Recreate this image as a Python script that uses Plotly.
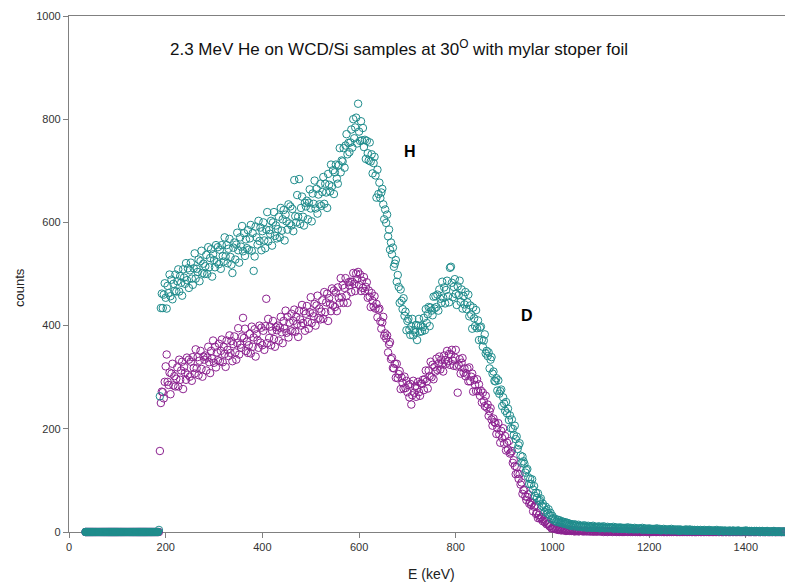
import plotly.graph_objects as go

# Energy grid of the spectrum channels (keV), 2 keV per channel
energy_kev = list(range(34, 1481, 2))

# H series (teal) counts
h_counts = [
    # 34 .. 184 keV (below threshold)
    0, 0, 0, 0, 0, 0, 0, 0, 0, 0, 0, 0, 0, 0, 0, 0, 0, 0, 0, 0,
    0, 0, 0, 0, 0, 0, 0, 0, 0, 0, 0, 0, 0, 0, 0, 0, 0, 0, 0, 0,
    0, 0, 0, 0, 0, 0, 0, 0, 0, 0, 0, 0, 0, 0, 0, 0, 0, 0, 0, 0,
    0, 0, 0, 0, 0, 0, 0, 0, 0, 0, 0, 0, 0, 0, 0, 0,
    # 186, 188, 190
    4, 263, 434,
    # 192 .. 1000
    462, 434, 460, 482, 454, 433, 477, 463, 499, 457, 489, 451, 481, 467, 499,
    466, 486, 509, 466, 496, 483, 458, 509, 493, 481, 521, 488, 511, 473, 507,
    522, 491, 479, 511, 540, 491, 510, 504, 528, 486, 525, 545, 502, 520, 500,
    515, 537, 500, 552, 513, 531, 548, 495, 538, 527, 513, 556, 523, 552, 519,
    547, 510, 556, 535, 524, 571, 534, 556, 521, 549, 568, 533, 518, 502, 551,
    561, 528, 557, 580, 546, 522, 571, 553, 593, 544, 579, 535, 567, 550, 585,
    547, 569, 595, 545, 579, 506, 534, 592, 571, 557, 603, 564, 590, 546, 583,
    600, 565, 550, 586, 620, 563, 585, 578, 603, 555, 600, 620, 574, 594, 569,
    587, 611, 571, 628, 584, 606, 624, 565, 615, 602, 586, 635, 598, 631, 594,
    626, 583, 682, 612, 600, 653, 611, 684, 597, 628, 650, 611, 594, 638, 631,
    642, 606, 638, 664, 627, 602, 656, 636, 681, 627, 665, 617, 654, 635, 675,
    632, 659, 688, 636, 675, 658, 628, 694, 673, 660, 712, 670, 701, 655, 697,
    712, 685, 675, 711, 744, 697, 720, 718, 744, 706, 749, 771, 732, 754, 736,
    755, 780, 745, 800, 763, 784, 803, 753, 830, 776, 758, 796, 759, 783, 746,
    760, 723, 758, 734, 720, 755, 718, 732, 695, 715, 727, 691, 648, 702, 655,
    677, 647, 658, 665, 635, 606, 625, 599, 615, 573, 586, 547, 561, 538, 551,
    514, 520, 527, 485, 498, 475, 444, 470, 448, 432, 453, 419, 427, 391, 409,
    413, 392, 382, 398, 413, 381, 391, 387, 401, 372, 400, 413, 388, 400, 389,
    397, 415, 391, 432, 405, 422, 436, 399, 435, 429, 420, 456, 433, 457, 436,
    460, 429, 470, 452, 444, 485, 454, 474, 443, 469, 487, 457, 445, 512, 514,
    483, 455, 475, 490, 461, 440, 476, 459, 487, 446, 470, 433, 457, 441, 465,
    432, 445, 460, 418, 439, 421, 394, 435, 414, 399, 430, 395, 410, 372, 396,
    398, 373, 359, 371, 383, 346, 351, 341, 348, 317, 334, 339, 307, 311, 293,
    292, 298, 274, 294, 268, 273, 276, 244, 261, 249, 235, 252, 230, 239, 217,
    226, 201, 218, 200, 188, 206, 180, 185, 161, 168, 172, 148, 134, 146, 137,
    132, 115, 120, 122, 106, 93, 103, 93, 102, 82, 89, 70, 76, 66, 75,
    60, 62, 65, 51, 55, 48, 39, 49, 42, 36, 44, 33, 37, 25, 31,
    # 1002 .. 1480
    27, 22, 25, 20, 24, 19, 23, 18, 21, 17, 20, 16, 19, 15, 18,
    17, 13, 16, 12, 15, 14, 11, 15, 12, 13, 10, 14, 11, 12, 10,
    12, 9, 13, 10, 11, 8, 12, 10, 9, 11, 8, 12, 9, 10, 8,
    10, 8, 11, 7, 9, 10, 8, 11, 7, 9, 8, 10, 7, 9, 8,
    9, 7, 10, 6, 8, 9, 7, 8, 6, 9, 7, 8, 6, 8, 7,
    8, 6, 9, 5, 7, 8, 6, 7, 5, 8, 6, 7, 5, 7, 6,
    7, 5, 8, 4, 6, 7, 5, 6, 4, 7, 5, 6, 4, 6, 5,
    6, 4, 7, 5, 4, 6, 3, 5, 4, 6, 4, 5, 3, 5, 4,
    5, 3, 6, 4, 3, 5, 4, 3, 5, 4, 2, 5, 3, 4, 3,
    4, 3, 5, 2, 4, 3, 5, 3, 2, 4, 3, 4, 2, 3, 4,
    3, 2, 4, 3, 2, 3, 4, 2, 3, 2, 3, 4, 2, 3, 2,
    3, 2, 3, 2, 4, 2, 1, 3, 2, 3, 2, 1, 3, 2, 2,
    2, 1, 3, 2, 1, 2, 3, 1, 2, 2, 1, 3, 2, 1, 2,
    1, 2, 2, 1, 3, 1, 2, 1, 2, 1, 2, 1, 1, 2, 1,
    2, 1, 1, 2, 0, 1, 2, 1, 1, 0, 1, 2, 1, 0, 1,
    1, 1, 0, 2, 1, 0, 1, 1, 0, 1, 1, 0, 1, 0, 1,
]

# D series (purple) counts
d_counts = [
    # 34 .. 184 keV
    0, 0, 0, 0, 0, 0, 0, 0, 0, 0, 0, 0, 0, 0, 0, 0, 0, 0, 0, 0,
    0, 0, 0, 0, 0, 0, 0, 0, 0, 0, 0, 0, 0, 0, 0, 0, 0, 0, 0, 0,
    0, 0, 0, 0, 0, 0, 0, 0, 0, 0, 0, 0, 0, 0, 0, 0, 0, 0, 0, 0,
    0, 0, 0, 0, 0, 0, 0, 0, 0, 0, 0, 0, 0, 0, 0, 0,
    # 186, 188, 190
    0, 157, 250,
    # 192 .. 1000
    272, 271, 259, 291, 321, 344, 291, 285, 309, 267, 307, 326, 284, 302, 282,
    297, 319, 282, 334, 295, 313, 330, 277, 320, 309, 295, 338, 305, 334, 301,
    330, 293, 339, 318, 307, 354, 317, 339, 304, 332, 351, 316, 301, 340, 334,
    342, 313, 338, 359, 329, 308, 351, 336, 371, 328, 359, 319, 348, 333, 365,
    331, 351, 373, 329, 359, 345, 320, 371, 353, 341, 381, 347, 370, 331, 364,
    379, 348, 334, 366, 395, 344, 363, 357, 379, 415, 376, 394, 351, 369, 347,
    362, 384, 346, 398, 359, 377, 393, 340, 383, 372, 357, 400, 367, 396, 362,
    390, 353, 399, 452, 366, 413, 376, 398, 362, 390, 409, 374, 359, 397, 391,
    400, 371, 396, 417, 387, 366, 409, 394, 429, 386, 417, 377, 406, 391, 423,
    389, 409, 431, 388, 417, 403, 378, 429, 412, 400, 440, 405, 428, 390, 423,
    438, 407, 394, 426, 455, 405, 424, 418, 442, 400, 439, 458, 415, 433, 412,
    427, 449, 413, 465, 426, 445, 462, 409, 453, 442, 428, 472, 439, 468, 436,
    464, 428, 474, 454, 444, 492, 455, 478, 444, 473, 492, 458, 444, 484, 478,
    485, 465, 485, 502, 481, 467, 501, 490, 504, 479, 499, 467, 487, 473, 494,
    467, 475, 484, 454, 468, 456, 436, 463, 448, 437, 457, 433, 442, 416, 431,
    433, 408, 394, 406, 417, 380, 385, 375, 381, 348, 364, 368, 335, 338, 318,
    317, 326, 299, 326, 298, 306, 312, 277, 299, 289, 278, 301, 279, 293, 271,
    285, 261, 287, 247, 265, 293, 270, 282, 262, 279, 291, 271, 264, 288, 287,
    295, 275, 296, 313, 292, 278, 313, 302, 330, 300, 324, 296, 320, 311, 336,
    314, 326, 340, 315, 334, 326, 311, 342, 333, 326, 351, 331, 345, 324, 344,
    353, 332, 322, 338, 353, 321, 270, 324, 335, 307, 328, 337, 309, 317, 302,
    307, 317, 292, 319, 292, 301, 307, 272, 295, 285, 273, 296, 273, 286, 264,
    274, 251, 270, 254, 244, 264, 241, 247, 225, 234, 240, 218, 206, 220, 213,
    211, 190, 201, 211, 189, 173, 196, 182, 201, 171, 186, 158, 173, 160, 176,
    152, 154, 157, 134, 139, 128, 112, 126, 113, 103, 112, 92, 96, 74, 81,
    82, 69, 62, 68, 73, 55, 58, 52, 56, 40, 49, 51, 35, 37, 27,
    33, 26, 28, 29, 21, 24, 19, 22, 15, 16, 16, 11, 12, 7, 8,
    # 1002 .. 1480
    7, 6, 8, 5, 6, 4, 5, 6, 3, 4, 5, 3, 4, 2, 3,
    3, 4, 2, 3, 2, 4, 2, 1, 3, 2, 3, 1, 2, 3, 2,
    2, 1, 2, 3, 1, 2, 2, 1, 2, 1, 2, 1, 1, 2, 1,
    1, 2, 1, 2, 1, 1, 2, 0, 1, 2, 1, 0, 1, 1, 2,
    1, 0, 1, 2, 1, 0, 1, 1, 0, 1, 1, 0, 1, 0, 1,
    1, 1, 0, 1, 2, 0, 1, 0, 1, 1, 0, 1, 0, 1, 0,
    0, 1, 1, 0, 1, 2, 0, 1, 0, 1, 0, 0, 1, 0, 1,
    1, 0, 0, 1, 1, 0, 2, 0, 1, 0, 0, 1, 0, 0, 1,
    0, 1, 0, 1, 0, 1, 1, 0, 0, 1, 0, 0, 1, 0, 0,
    1, 0, 1, 0, 0, 1, 0, 1, 0, 0, 1, 0, 0, 0, 1,
    0, 1, 0, 0, 1, 0, 0, 1, 0, 1, 0, 0, 0, 1, 0,
    0, 0, 1, 0, 0, 1, 0, 0, 1, 0, 0, 0, 1, 0, 0,
    1, 0, 0, 0, 1, 0, 0, 1, 0, 0, 0, 1, 0, 0, 0,
    0, 0, 1, 0, 0, 0, 1, 0, 0, 0, 0, 1, 0, 0, 0,
    0, 1, 0, 0, 0, 1, 0, 0, 0, 0, 1, 0, 0, 0, 0,
    0, 0, 0, 1, 0, 0, 0, 0, 1, 0, 0, 0, 0, 1, 0,
]

x_ticks = [0, 200, 400, 600, 800, 1000, 1200, 1400]
y_ticks = [0, 200, 400, 600, 800, 1000]

title_text = "2.3 MeV He on WCD/Si samples at 30<sup>O</sup> with mylar stoper foil"

assert len(h_counts) == len(energy_kev), (len(h_counts), len(energy_kev))
assert len(d_counts) == len(energy_kev), (len(d_counts), len(energy_kev))

PURPLE = "#8c2290"
TEAL = "#1f8c8c"
FONT = "Liberation Sans, Arial, sans-serif"

# Below-threshold channels overlap so densely that they render as a solid band
THRESHOLD_KEV = 186
h_symbols = ["circle" if e < THRESHOLD_KEV else "circle-open" for e in energy_kev]
d_symbols = ["circle" if e < THRESHOLD_KEV else "circle-open" for e in energy_kev]

fig = go.Figure()
fig.add_trace(go.Scatter(
    x=energy_kev, y=d_counts, mode="markers", name="D",
    marker=dict(symbol=d_symbols, size=7.5, color=PURPLE, line=dict(width=1, color=PURPLE)),
    cliponaxis=False, showlegend=False,
))
fig.add_trace(go.Scatter(
    x=energy_kev, y=h_counts, mode="markers", name="H",
    marker=dict(symbol=h_symbols, size=7.5, color=TEAL, line=dict(width=1, color=TEAL)),
    cliponaxis=False, showlegend=False,
))

axis_common = dict(
    showgrid=False, zeroline=False, showline=True, linecolor="#808080", linewidth=1.3,
    ticks="outside", ticklen=5, tickwidth=1, tickcolor="#808080",
    tickfont=dict(family=FONT, size=11, color="#333333"),
    layer="below traces",
)

fig.update_layout(
    width=785, height=584,
    margin=dict(l=69, r=0, t=16, b=52),
    paper_bgcolor="white", plot_bgcolor="white",
    font=dict(family=FONT, color="#111111"),
    xaxis=dict(range=[0, 1481], tickvals=x_ticks, mirror=True, **axis_common),
    yaxis=dict(range=[0, 1000], tickvals=y_ticks, **axis_common),
    annotations=[
        dict(x=682, y=938, xref="x", yref="y", text=title_text, showarrow=False,
             font=dict(size=17, family=FONT, color="#111111"), xanchor="center", yanchor="middle"),
        dict(x=705, y=737, xref="x", yref="y", text="<b>H</b>", showarrow=False,
             font=dict(size=16, family=FONT, color="#000000"), xanchor="center", yanchor="middle"),
        dict(x=947, y=419, xref="x", yref="y", text="<b>D</b>", showarrow=False,
             font=dict(size=16, family=FONT, color="#000000"), xanchor="center", yanchor="middle"),
        dict(x=-0.0684, y=473, xref="paper", yref="y", text="counts", showarrow=False,
             textangle=-90, font=dict(size=13, family=FONT, color="#222222"),
             xanchor="center", yanchor="middle"),
        dict(x=750, y=-0.0814, xref="x", yref="paper", text="E (keV)", showarrow=False,
             font=dict(size=14, family=FONT, color="#222222"), xanchor="center", yanchor="middle"),
    ],
)

fig.write_html("out.html")
